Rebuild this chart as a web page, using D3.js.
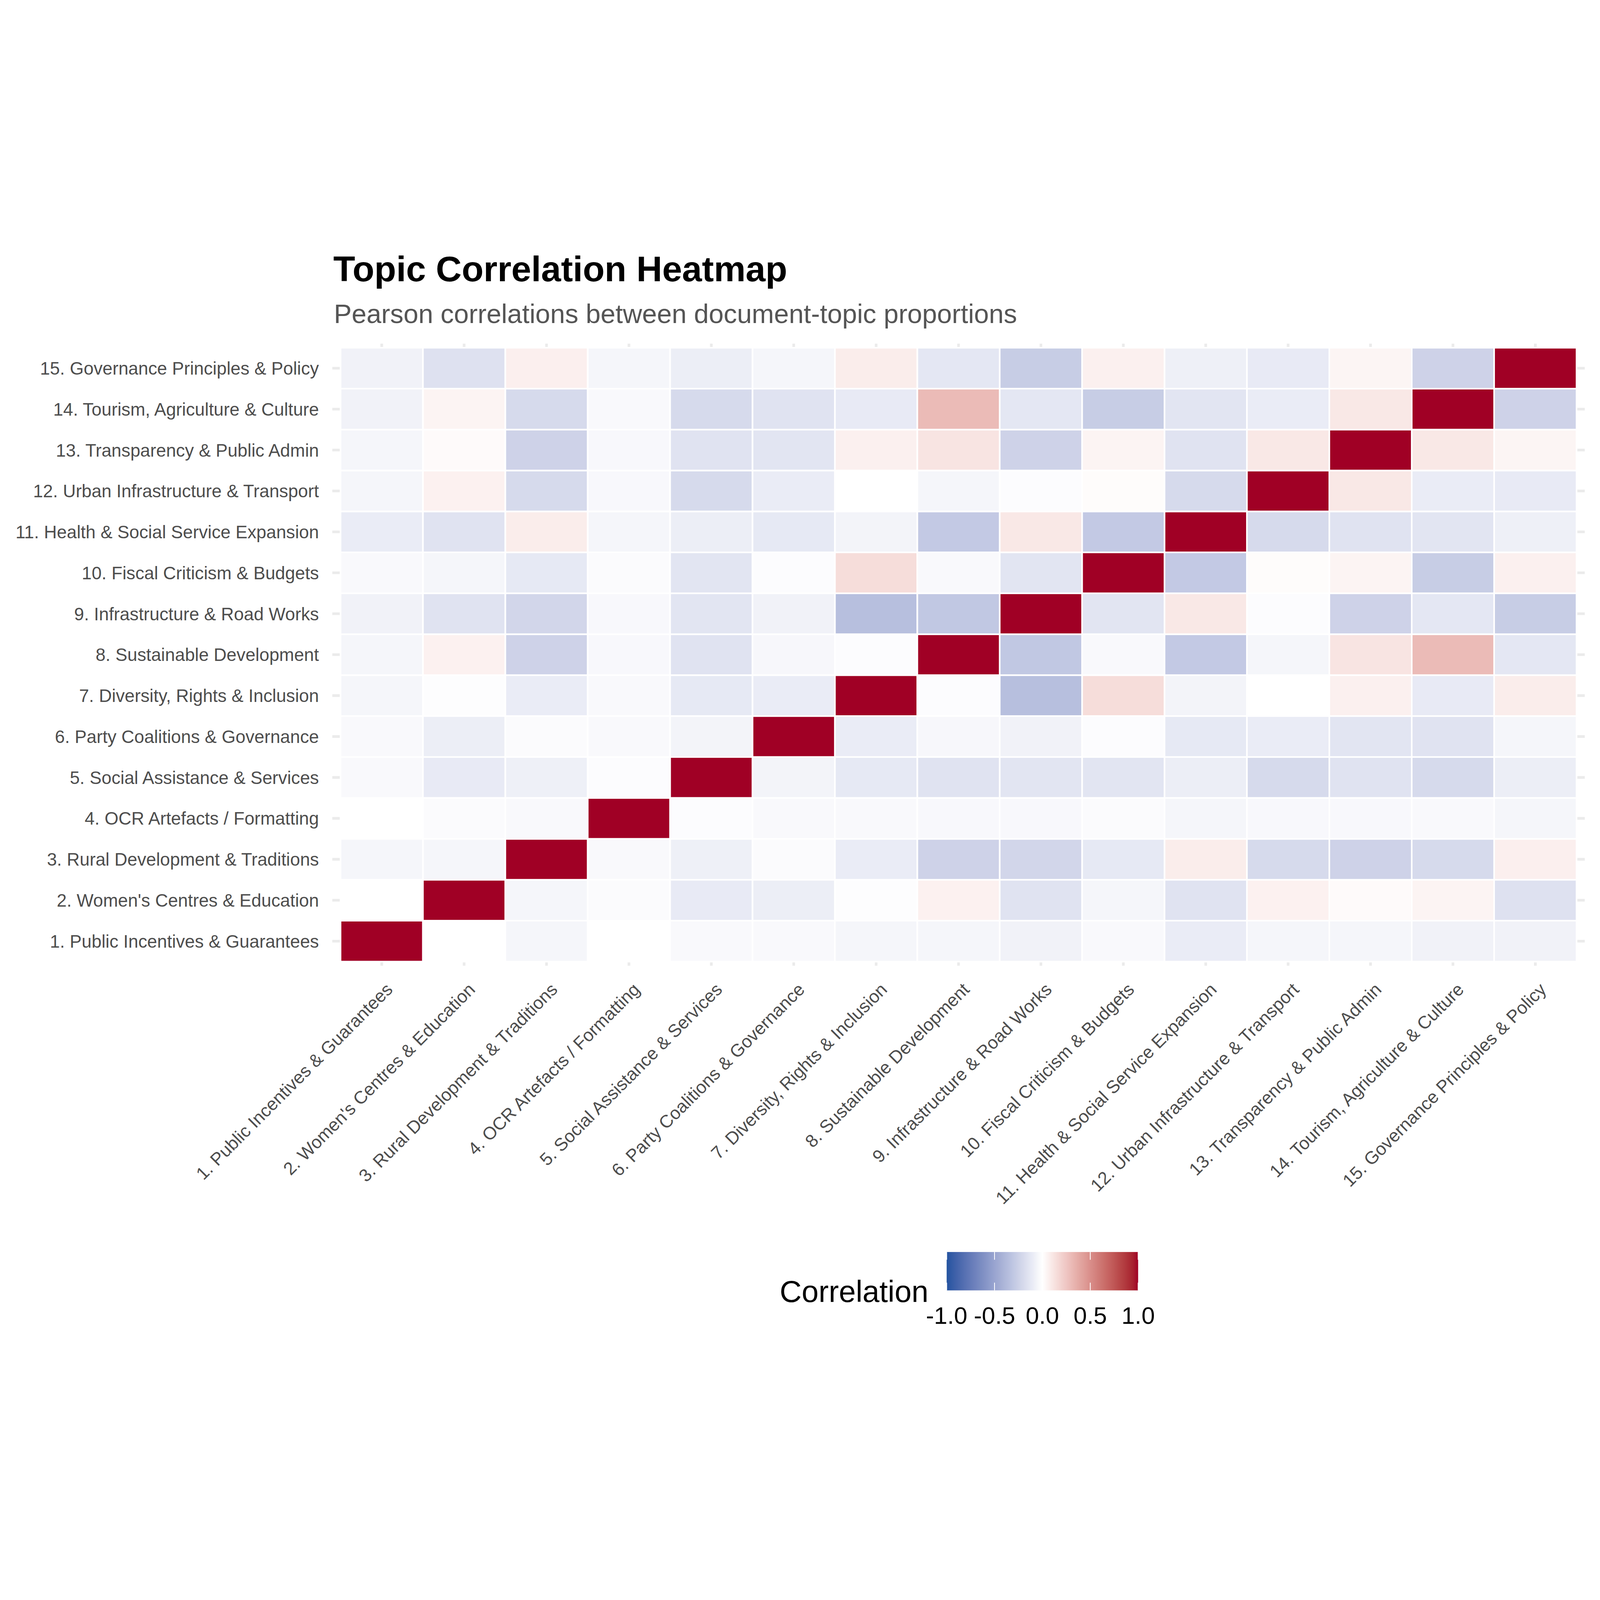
<!DOCTYPE html>
<html>
<head>
<meta charset="utf-8">
<script src="https://cdn.jsdelivr.net/npm/d3@7"></script>
<style>
  html, body { margin: 0; padding: 0; background: #fff; overflow: hidden; width: 100%; height: 100%; }
  svg { display: block; width: 100vw; height: 100vh; }
  text { font-family: "Liberation Sans", Arial, sans-serif; }
</style>
</head>
<body>
<svg id="chart" viewBox="0 0 6000 4200" preserveAspectRatio="xMidYMid meet"></svg>
<script>
const topics = [
  '1. Public Incentives & Guarantees',
  "2. Women's Centres & Education",
  '3. Rural Development & Traditions',
  '4. OCR Artefacts / Formatting',
  '5. Social Assistance & Services',
  '6. Party Coalitions & Governance',
  '7. Diversity, Rights & Inclusion',
  '8. Sustainable Development',
  '9. Infrastructure & Road Works',
  '10. Fiscal Criticism & Budgets',
  '11. Health & Social Service Expansion',
  '12. Urban Infrastructure & Transport',
  '13. Transparency & Public Admin',
  '14. Tourism, Agriculture & Culture',
  '15. Governance Principles & Policy'
];

// correlation matrix, row i = topic i+1, column j = topic j+1
const corr = [
  [1, 0, -0.05, 0, -0.03, -0.03, -0.05, -0.05, -0.07, -0.03, -0.1, -0.05, -0.05, -0.07, -0.07],
  [0, 1, -0.05, -0.02, -0.11, -0.09, -0.01, 0.06, -0.15, -0.05, -0.15, 0.06, 0.02, 0.05, -0.16],
  [-0.05, -0.05, 1, -0.03, -0.08, -0.02, -0.1, -0.24, -0.22, -0.12, 0.08, -0.2, -0.24, -0.2, 0.07],
  [0, -0.02, -0.03, 1, -0.015, -0.03, -0.03, -0.035, -0.035, -0.02, -0.05, -0.035, -0.035, -0.03, -0.05],
  [-0.03, -0.11, -0.08, -0.015, 1, -0.06, -0.12, -0.15, -0.14, -0.14, -0.09, -0.2, -0.15, -0.2, -0.09],
  [-0.03, -0.09, -0.02, -0.03, -0.06, 1, -0.1, -0.04, -0.07, -0.015, -0.12, -0.1, -0.14, -0.15, -0.05],
  [-0.05, -0.01, -0.1, -0.03, -0.12, -0.1, 1, -0.015, -0.35, 0.15, -0.06, 0, 0.065, -0.11, 0.08],
  [-0.05, 0.06, -0.24, -0.035, -0.15, -0.04, -0.015, 1, -0.3, -0.03, -0.29, -0.05, 0.12, 0.3, -0.13],
  [-0.07, -0.15, -0.22, -0.035, -0.14, -0.07, -0.35, -0.3, 1, -0.14, 0.1, -0.015, -0.24, -0.13, -0.27],
  [-0.03, -0.05, -0.12, -0.02, -0.14, -0.015, 0.15, -0.03, -0.14, 1, -0.29, 0.015, 0.05, -0.27, 0.065],
  [-0.1, -0.15, 0.08, -0.05, -0.09, -0.12, -0.06, -0.29, 0.1, -0.29, 1, -0.2, -0.15, -0.14, -0.08],
  [-0.05, 0.06, -0.2, -0.035, -0.2, -0.1, 0, -0.05, -0.015, 0.015, -0.2, 1, 0.1, -0.1, -0.11],
  [-0.05, 0.02, -0.24, -0.035, -0.15, -0.14, 0.065, 0.12, -0.24, 0.05, -0.15, 0.1, 1, 0.1, 0.045],
  [-0.07, 0.05, -0.2, -0.03, -0.2, -0.15, -0.11, 0.3, -0.13, -0.27, -0.14, -0.1, 0.1, 1, -0.24],
  [-0.07, -0.16, 0.07, -0.05, -0.09, -0.05, 0.08, -0.13, -0.27, 0.065, -0.08, -0.11, 0.045, -0.24, 1]
];

const legendBreaks = [-1, -0.5, 0, 0.5, 1];

const cells = [];
corr.forEach((row, i) => row.forEach((v, j) => {
  cells.push({ row: topics[i], col: topics[j], value: v });
}));

const svg = d3.select('#chart');
const textColor = '#4d4d4d';

const x = d3.scaleBand().domain(topics).range([1277, 5912]);
const y = d3.scaleBand().domain(topics).range([2706, 404]);
const bw = x.bandwidth();
const bh = y.bandwidth();
const panel = { left: 1277 - bw * 0.1, right: 5912 + bw * 0.1, top: 404 - bh * 0.1, bottom: 2706 + bh * 0.1 };

const color = d3.scaleLinear()
  .domain([-1, 0, 1])
  .range(['#2353a0', '#ffffff', '#a00025'])
  .interpolate(d3.interpolateLab);

svg.append('rect').attr('width', 6000).attr('height', 4200).attr('fill', '#fff');

// grid lines behind the tiles
const grid = svg.append('g').attr('stroke', '#ebebeb').attr('stroke-width', 10);
grid.selectAll('line.v')
  .data(topics)
  .enter()
  .append('line')
  .attr('class', 'v')
  .attr('x1', d => x(d) + bw / 2)
  .attr('x2', d => x(d) + bw / 2)
  .attr('y1', panel.top)
  .attr('y2', panel.bottom);
grid.selectAll('line.h')
  .data(topics)
  .enter()
  .append('line')
  .attr('class', 'h')
  .attr('y1', d => y(d) + bh / 2)
  .attr('y2', d => y(d) + bh / 2)
  .attr('x1', panel.left)
  .attr('x2', panel.right);

svg.append('g')
  .selectAll('rect')
  .data(cells)
  .enter()
  .append('rect')
  .attr('x', d => x(d.col))
  .attr('y', d => y(d.row))
  .attr('width', bw)
  .attr('height', bh)
  .attr('fill', d => color(d.value))
  .attr('stroke', '#ffffff')
  .attr('stroke-width', 6);

// y axis labels
svg.append('g')
  .selectAll('text')
  .data(topics)
  .enter()
  .append('text')
  .attr('x', 1196)
  .attr('y', d => y(d) + bh / 2)
  .attr('dy', '0.36em')
  .attr('text-anchor', 'end')
  .attr('font-size', 67)
  .attr('fill', textColor)
  .text(d => d);

// x axis labels, rotated
svg.append('g')
  .selectAll('text')
  .data(topics)
  .enter()
  .append('text')
  .attr('transform', d => `translate(${x(d) + bw / 2 + 45},2815) rotate(-45)`)
  .attr('text-anchor', 'end')
  .attr('font-size', 67)
  .attr('fill', textColor)
  .text(d => d);

// titles
svg.append('text')
  .attr('x', 1250)
  .attr('y', 155)
  .attr('font-size', 134)
  .attr('font-weight', 'bold')
  .attr('fill', '#000')
  .text('Topic Correlation Heatmap');
svg.append('text')
  .attr('x', 1252)
  .attr('y', 312)
  .attr('font-size', 100)
  .attr('fill', '#555555')
  .text('Pearson correlations between document-topic proportions');

// legend
const lx = d3.scaleLinear().domain([-1, 1]).range([3550, 4268]);
const defs = svg.append('defs');
const grad = defs.append('linearGradient').attr('id', 'corrGrad');
grad.selectAll('stop')
  .data(d3.range(0, 41).map(i => -1 + i * 0.05))
  .enter()
  .append('stop')
  .attr('offset', d => `${(d + 1) * 50}%`)
  .attr('stop-color', d => color(d));

const legend = svg.append('g');
legend.append('rect')
  .attr('x', lx(-1))
  .attr('y', 3795)
  .attr('width', lx(1) - lx(-1))
  .attr('height', 144)
  .attr('fill', 'url(#corrGrad)');
legend.selectAll('line.tt')
  .data(legendBreaks)
  .enter()
  .append('line')
  .attr('x1', d => lx(d))
  .attr('x2', d => lx(d))
  .attr('y1', 3795)
  .attr('y2', 3824)
  .attr('stroke', '#fff')
  .attr('stroke-width', 3);
legend.selectAll('line.tb')
  .data(legendBreaks)
  .enter()
  .append('line')
  .attr('x1', d => lx(d))
  .attr('x2', d => lx(d))
  .attr('y1', 3910)
  .attr('y2', 3939)
  .attr('stroke', '#fff')
  .attr('stroke-width', 3);
legend.selectAll('text.lab')
  .data(legendBreaks)
  .enter()
  .append('text')
  .attr('x', d => lx(d))
  .attr('y', 4065)
  .attr('text-anchor', 'middle')
  .attr('font-size', 90)
  .attr('fill', '#000')
  .text(d => d3.format('.1f')(d).replace('−', '-'));
legend.append('text')
  .attr('x', 2924)
  .attr('y', 3982)
  .attr('font-size', 114)
  .attr('fill', '#000')
  .text('Correlation');
</script>
</body>
</html>
